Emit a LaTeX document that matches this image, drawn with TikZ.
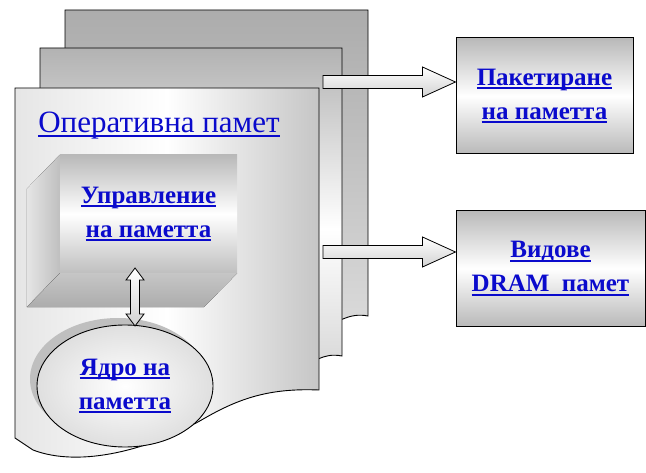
\documentclass[tikz,border=0pt]{standalone}
\usepackage{fontspec}
\setmainfont{Liberation Serif}
\usepackage{tikz}
\usetikzlibrary{shapes.geometric,calc,positioning}
\definecolor{txtblue}{HTML}{0A0ACC}
\newcommand{\uln}[1]{\setbox0\hbox{#1}\rlap{\rule[-4pt]{\wd0}{1.8pt}}\box0}
\tikzset{
  page/.style={draw=black, line width=0.9pt},
  flowarrow/.style={draw=black, line width=0.8pt, top color=white, bottom color=gray!35},
  lbl/.style={text=txtblue, font={\bfseries\fontsize{25}{34}\selectfont}, align=center},
  sidebox/.style={draw=black, line width=1pt, top color=gray!55, bottom color=gray!55, middle color=white,
    minimum width=177pt, minimum height=116pt, inner sep=0pt}
}

\begin{document}
\begin{tikzpicture}[x=1pt, y=-1pt]
    \useasboundingbox (0,0) rectangle (646,473);
    % stacked pages
    \draw[page, top color=gray!65, bottom color=gray!25] (65,10) -- (368,10) -- (368,316)
      .. controls (358,314) and (350,316) .. (343,319) .. controls (250,340) and (140,360) .. (65,335) -- cycle;
    \draw[page, top color=gray!60, bottom color=gray!40, middle color=white] (40,48) -- (342,48) -- (342,356)
      .. controls (332,354) and (325,356) .. (318,359) .. controls (220,390) and (120,410) .. (40,395) -- cycle;
    \draw[page, left color=gray!20, right color=gray!45, middle color=white] (15,88) -- (319,88) -- (319,390)
      .. controls (270,388) and (240,398) .. (205,418) .. controls (150,450) and (80,468) .. (33,450) -- (15,438) -- cycle;
    \node[text=txtblue, font=\fontsize{31}{36}\selectfont, anchor=base] (title) at (159,133) {\uln{Оперативна памет}};
    % memory management block
    \node[lbl, minimum width=177pt, minimum height=118pt, inner sep=0pt,
      top color=gray!55, bottom color=gray!50, middle color=white] (mgmt) at (148.5,214)
      {\uln{Управление}\\\uln{на паметта}};
    \fill[left color=gray!20, right color=gray!50] (mgmt.north west) -- ++(-33,34) -- ++(0,118) -- (mgmt.south west) -- cycle;
    \fill[top color=gray!45, bottom color=gray!65] (mgmt.south west) -- ++(-33,34) -- ++(177,0) -- (mgmt.south east) -- cycle;
    % kernel
    \fill[gray!50] (118,379) ellipse [x radius=88pt, y radius=61pt];
    \node[lbl, ellipse, draw=black, line width=0.9pt, inner color=white, outer color=gray!25,
      minimum width=176pt, minimum height=122pt, inner sep=0pt] (core) at (125,386)
      {\uln{Ядро на}\\\uln{паметта}};
    \coordinate (dtop) at (135,268);
    \coordinate (dbot) at (135,326);
    \draw[flowarrow] (dtop) -- ++(9,12) -- ++(-4.5,0) -- ($(dbot)+(4.5,-12)$) -- ++(4.5,0) -- (dbot)
      -- ++(-9,-12) -- ++(4.5,0) -- ($(dtop)+(-4.5,12)$) -- ++(-4.5,0) -- cycle;
    % right boxes
    \node[sidebox, lbl] (pack) at (544.5,96) {\uln{Пакетиране}\\\uln{на паметта}};
    \node[sidebox, lbl, minimum width=189pt] (dram) at (550.5,268.5) {\uln{Видове}\\\uln{DRAM\ \ памет}};
    \coordinate (a1s) at (323,82);
    \coordinate (a2s) at (323,252);
    \draw[flowarrow] ($(a1s)+(0,-6.5)$) -- ($(pack.west |- a1s)+(-33,-6.5)$) -- ++(0,-8.5) -- (pack.west |- a1s)
      -- ++(-33,15) -- ++(0,-8.5) -- ($(a1s)+(0,6.5)$) -- cycle;
    \draw[flowarrow] ($(a2s)+(0,-6.5)$) -- ($(dram.west |- a2s)+(-33,-6.5)$) -- ++(0,-8.5) -- (dram.west |- a2s)
      -- ++(-33,15) -- ++(0,-8.5) -- ($(a2s)+(0,6.5)$) -- cycle;
\end{tikzpicture}
\end{document}
